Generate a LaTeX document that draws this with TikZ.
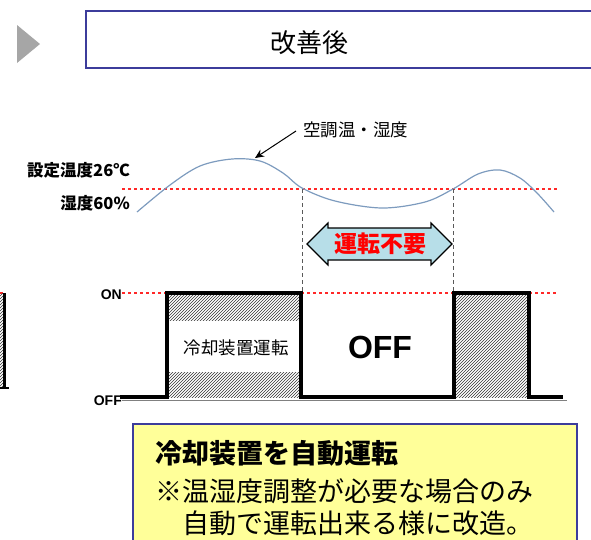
\documentclass[tikz,border=0pt]{standalone}
\usepackage{fontspec}
\setmainfont{Liberation Sans}
\newfontfamily\cjk{Noto Sans CJK JP}
\usetikzlibrary{patterns,arrows.meta}
\definecolor{boxblue}{RGB}{60,60,155}
\definecolor{curveblue}{RGB}{125,155,190}
\definecolor{dashred}{RGB}{255,40,40}
\definecolor{notefill}{RGB}{255,255,153}
\definecolor{arrowfill}{RGB}{183,222,232}
\tikzset{
  lbl/.style={font=\cjk\bfseries\fontsize{16.5}{16.5}\selectfont, inner sep=0pt},
  onoff/.style={font=\bfseries\fontsize{14}{14}\selectfont, inner sep=0pt},
  reddash/.style={color=dashred, dash pattern=on 3pt off 3pt, line width=1.1pt},
  graydash/.style={color=black!65, dash pattern=on 4pt off 3pt, line width=0.9pt},
  pulse/.style={line width=3.5pt, line join=miter},
  hatch/.style={pattern=north east lines, pattern color=black!80},
}
\begin{document}
\begin{tikzpicture}[x=1pt,y=-1pt]
\useasboundingbox (0,0) rectangle (591,539);
\clip (0,0) rectangle (591,539);
% header
\fill[black!35] (17,25) -- (40,44) -- (17,63) -- cycle;
\draw[boxblue, line width=1.2pt] (86,11) rectangle (600,68);
\node[font=\cjk\fontsize{26}{26}\selectfont, inner sep=0pt] (title) at (309,43) {改善後};
% set line and curve
\draw[reddash] (122,189) coordinate (rl) -- (558,189) coordinate (rr);
\draw[curveblue, line width=1.2pt] plot[smooth, tension=0.55] coordinates
  {(137,212) (170,185) (200,166) (232,159) (260,161) (283,173) (302,188) (335,201) (382,208) (425,202) (453,189) (478,174) (500,170) (520,178) (537,193) (554,212)};
\node[lbl, anchor=east] (setT) at (130,170) {設定温度26℃};
\node[lbl, anchor=east] (setH) at (130,203) {湿度60\%};
\node[font=\cjk\fontsize{17.5}{17.5}\selectfont, anchor=west, inner sep=0pt] (curvelbl) at (303,130) {空調温・湿度};
\coordinate (peak) at (255,158);
\draw[-{Stealth[length=9pt,width=8pt]}, line width=1pt] (296,131) -- (peak);
% dashed verticals
\draw[graydash] (302,189) -- (302,293);
\draw[graydash] (453,189) -- (453,293);
% double arrow
\draw[fill=arrowfill, line width=1.2pt, line join=miter]
  (307,244) -- (328,223) -- (328,228) -- (431,228) -- (431,223) -- (452,244)
  -- (431,265) -- (431,260) -- (328,260) -- (328,265) -- cycle;
\node[font=\cjk\bfseries\fontsize{23}{23}\selectfont, text=red, inner sep=0pt] (nouse) at (380,244) {運転不要};
% ON / OFF labels and red dashed
\node[onoff, anchor=east] (on) at (122,295) {ON};
\node[onoff, anchor=east] (off) at (122,401) {OFF};
\draw[reddash] (122,293) -- (167,293);
\draw[reddash] (301,293) -- (454,293);
\draw[reddash] (529,293) -- (558,293);
\draw[reddash] (0,293) -- (4,293);
% hatched boxes
\fill[hatch] (167,293) rectangle (301,397);
\fill[white] (169,321) rectangle (299,372);
\fill[hatch] (454,293) rectangle (529,397);
\fill[hatch] (0,293) rectangle (4,388);
\draw[line width=2.5pt] (4.5,293) -- (4.5,388);
\draw[line width=2.5pt] (0,388) -- (9,388);
\node[font=\cjk\fontsize{17.5}{17.5}\selectfont, inner sep=0pt] (runlbl) at (236,348) {冷却装置運転};
\node[font=\bfseries\fontsize{32}{32}\selectfont, inner sep=0pt] (offbig) at (380,347) {OFF};
% pulse line
\draw[black!50, line width=0.8pt] (122,400.5) -- (567,400.5);
\draw[pulse] (120,397) -- (167,397) -- (167,293) -- (301,293) -- (301,397) -- (454,397) -- (454,293) -- (529,293) -- (529,397) -- (563,397);
% note box
\draw[boxblue, fill=notefill, line width=1.2pt] (133,424) rectangle (577,560);
\node[font=\cjk\bfseries\fontsize{27}{27}\selectfont, anchor=west, inner sep=0pt] (n1) at (155,453) {冷却装置を自動運転};
\node[font=\cjk\fontsize{27}{27}\selectfont, anchor=west, inner sep=0pt] (n2) at (155,491) {※温湿度調整が必要な場合のみ};
\node[font=\cjk\fontsize{27}{27}\selectfont, anchor=west, inner sep=0pt] (n3) at (182,523) {自動で運転出来る様に改造。};
\end{tikzpicture}
\end{document}
